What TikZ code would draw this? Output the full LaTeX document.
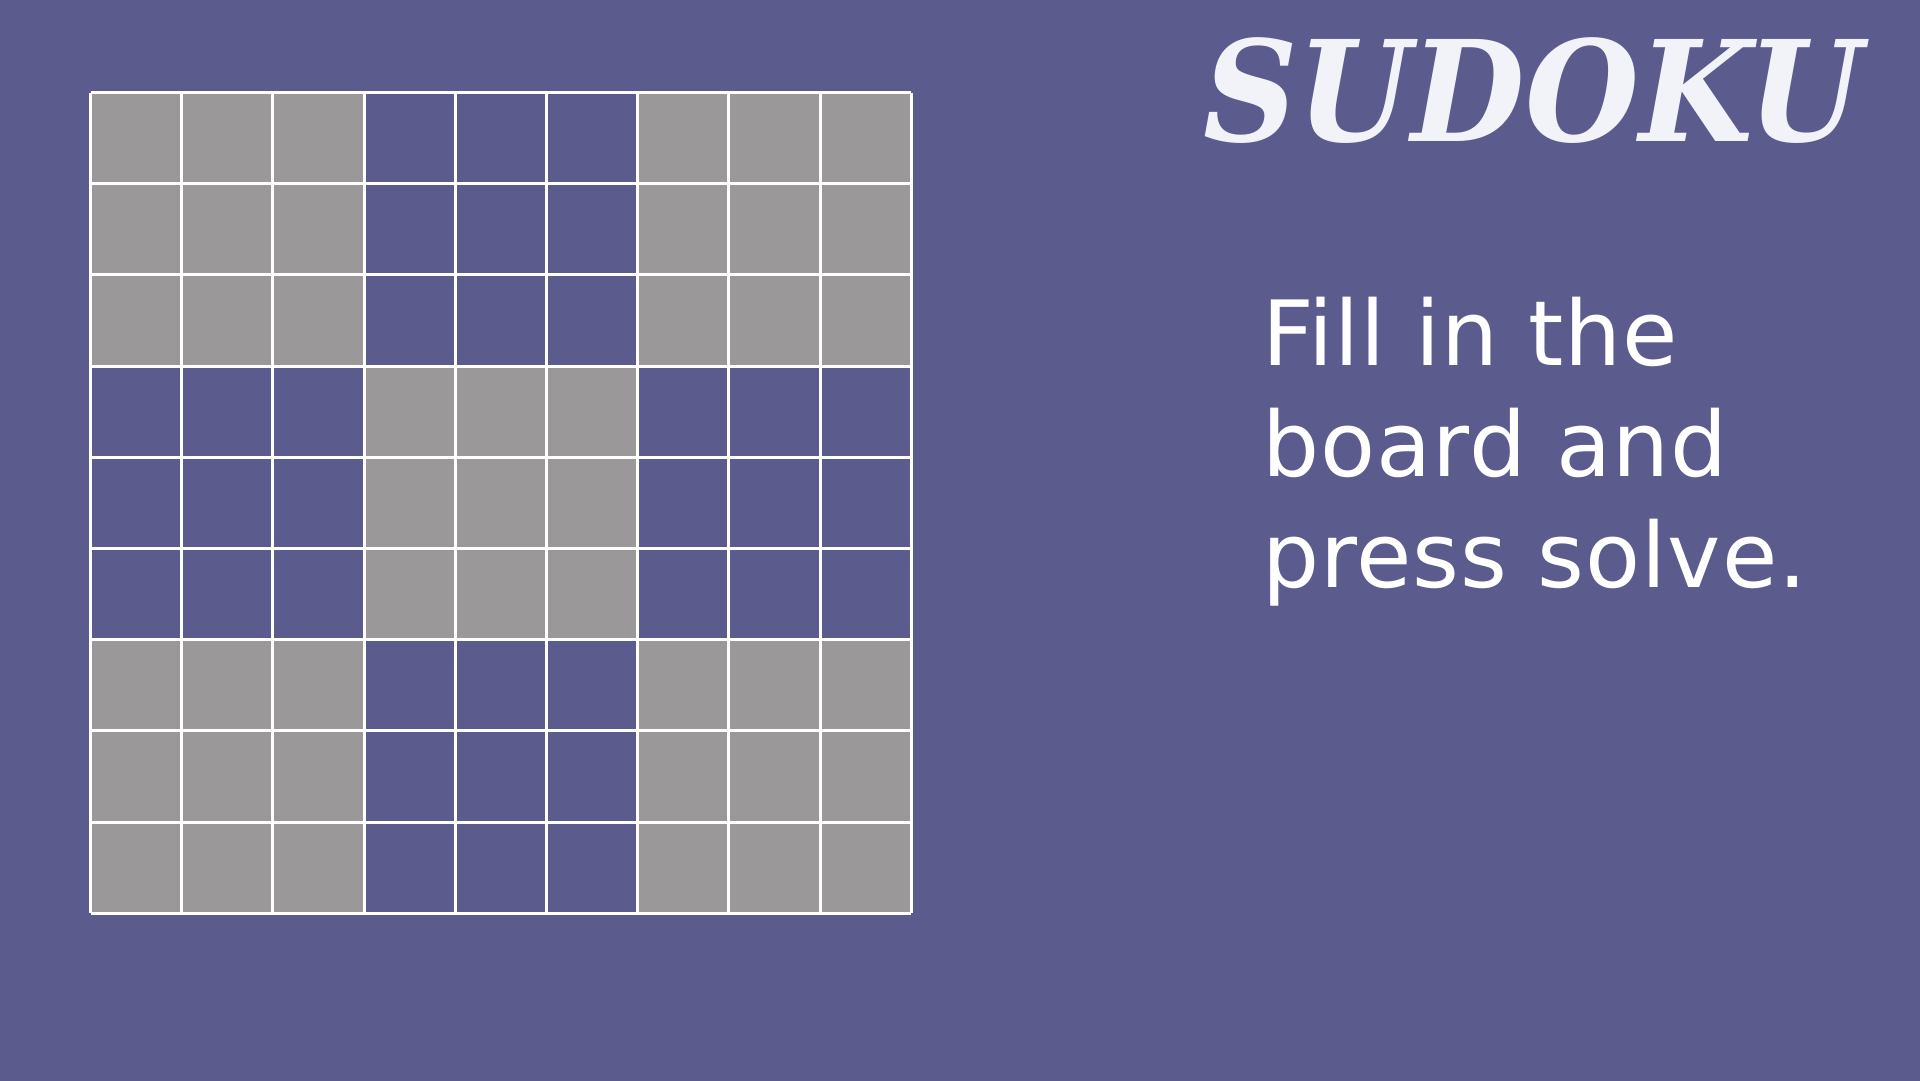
\documentclass[tikz,border=0pt]{standalone}
\usepackage{fontspec}
\setmainfont{DejaVu Sans}
\newfontfamily\titlefont{DejaVu Serif}
\definecolor{boardbg}{RGB}{91,91,142}
\definecolor{boxgray}{RGB}{154,152,153}
\definecolor{titlewhite}{RGB}{242,243,248}

\begin{document}
\begin{tikzpicture}[x=1pt, y=-1pt]
	%%%%% START %%%%%
	
	\useasboundingbox (0, 0) rectangle (1920, 1080);
	\fill[boardbg] (-4, -4) rectangle (1924, 1084);
	
	% gray 3x3 boxes
	\fill[boxgray] (90.5, 92.5) rectangle (364.1, 366.1);
	\fill[boxgray] (637.7, 92.5) rectangle (911.3, 366.1);
	\fill[boxgray] (364.1, 366.1) rectangle (637.7, 639.7);
	\fill[boxgray] (90.5, 639.7) rectangle (364.1, 913.3);
	\fill[boxgray] (637.7, 639.7) rectangle (911.3, 913.3);
	
	% grid
	\foreach \i in {0,...,9} {
		\draw[line width=3pt, white] (90.5+\i*91.2, 92.5) -- (90.5+\i*91.2, 913.3);
		\draw[line width=3pt, white] (90.5, 92.5+\i*91.2) -- (911.3, 92.5+\i*91.2);
	}
	
	\node[anchor=base west, inner sep=0, text=titlewhite] (title) at (1203, 141)
		{\scalebox{0.935}[1]{\titlefont\bfseries\itshape\fontsize{140}{140}\selectfont SUDOKU}};
	
	\node[anchor=base west, inner sep=0, text=white] (fill) at (1262, 365)
		{\fontsize{90}{108}\selectfont\addfontfeature{LetterSpace=1.2}Fill in the};
	\node[anchor=base west, inner sep=0, text=white] (board) at (1262, 476)
		{\fontsize{90}{108}\selectfont\addfontfeature{LetterSpace=1.2}board and};
	\node[anchor=base west, inner sep=0, text=white] (press) at (1262, 587)
		{\fontsize{90}{108}\selectfont\addfontfeature{LetterSpace=1.2}press solve.};
	
	%%%%% END %%%%%
\end{tikzpicture}
\end{document}
